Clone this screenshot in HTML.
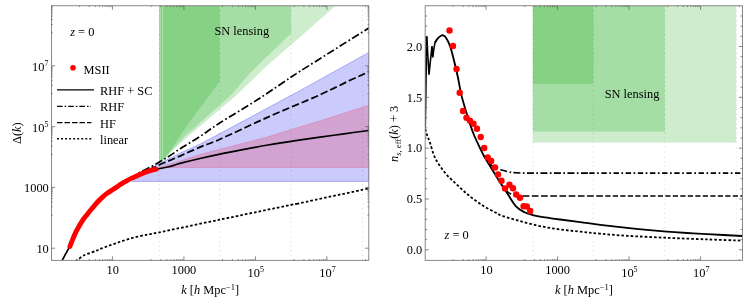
<!DOCTYPE html>
<html><head><meta charset="utf-8"><title>plot</title><style>html,body{margin:0;padding:0;background:#fff}svg{display:block;will-change:transform;opacity:0.999}</style></head><body>
<svg width="747" height="299" viewBox="0 0 747 299">
<rect width="747" height="299" fill="#fff"/>
<defs><clipPath id="cl"><rect x="51.5" y="5.8" width="317.3" height="254.6"/></clipPath>
<clipPath id="cr"><rect x="425.2" y="5.8" width="317.3" height="254.6"/></clipPath></defs>
<g clip-path="url(#cl)">
<polygon points="159.0,5.8 335.6,5.8 300.0,37.0 265.0,67.5 235.0,96.5 215.0,113.5 185.0,139.1 160.2,162.6 159.0,163.5" fill="rgb(5,165,5)" fill-opacity="0.20"/>
<polygon points="159.0,5.8 291.0,5.8 291.0,33.4 263.5,60.0 250.0,73.0 232.0,94.0 215.0,109.5 185.0,135.9 160.2,162.4 159.0,163.5" fill="rgb(5,165,5)" fill-opacity="0.20"/>
<polygon points="161.0,5.8 219.6,5.8 219.6,81.7 198.5,110.0 185.0,128.6 166.7,156.2 162.0,162.0 161.0,162.5" fill="rgb(5,165,5)" fill-opacity="0.20"/>
<line x1="162.6" y1="5.8" x2="162.6" y2="158" stroke="#fff" stroke-opacity="0.45" stroke-width="0.8"/>
<polygon points="132.6,181.4 136.8,175.9 145.0,171.5 151.0,168.0 158.4,164.0 180.0,153.2 200.0,144.2 220.0,133.5 268.0,107.8 301.0,90.0 368.8,52.4 368.8,181.4 132.6,181.4" fill="rgb(60,60,240)" fill-opacity="0.27" stroke="rgb(90,90,240)" stroke-opacity="0.7" stroke-width="0.6"/>
<polygon points="158.6,167.4 180.0,161.0 200.0,154.5 220.0,149.2 268.0,136.8 320.0,120.8 368.8,105.3 368.8,167.5 158.6,167.5" fill="rgb(240,40,70)" fill-opacity="0.24" stroke="rgb(235,60,110)" stroke-opacity="0.42" stroke-width="0.6"/>
</g>
<line x1="159.4" y1="5.8" x2="159.4" y2="260.4" stroke="#000" stroke-opacity="0.17" stroke-width="0.8" stroke-dasharray="1.2 3.5"/>
<line x1="219.6" y1="5.8" x2="219.6" y2="260.4" stroke="#000" stroke-opacity="0.17" stroke-width="0.8" stroke-dasharray="1.2 3.5"/>
<line x1="291.0" y1="5.8" x2="291.0" y2="260.4" stroke="#000" stroke-opacity="0.17" stroke-width="0.8" stroke-dasharray="1.2 3.5"/>
<line x1="362.5" y1="5.8" x2="362.5" y2="260.4" stroke="#000" stroke-opacity="0.17" stroke-width="0.8" stroke-dasharray="1.2 3.5"/>
<g clip-path="url(#cl)" fill="none" stroke="#000" stroke-linejoin="round">
<path d="M75.50,261.20 C75.88,260.92 76.72,260.27 77.80,259.50 C78.88,258.73 80.62,257.45 82.00,256.60 C83.38,255.75 83.68,255.40 86.10,254.40 C88.52,253.40 93.92,251.60 96.50,250.60 C99.08,249.60 98.40,249.62 101.60,248.40 C104.80,247.18 110.73,245.00 115.70,243.30 C120.67,241.60 126.17,239.65 131.40,238.20 C136.63,236.75 142.65,235.53 147.10,234.60 C151.55,233.67 146.02,235.08 158.10,232.60 C170.18,230.12 197.45,224.32 219.60,219.70 C241.75,215.08 277.60,207.67 291.00,204.90 C304.40,202.13 287.03,205.85 300.00,203.10 C312.97,200.35 357.33,190.85 368.80,188.40" stroke-width="1.8" stroke-dasharray="2.6 2.05"/>
<path d="M130.00,179.00 C131.67,177.88 136.38,174.40 140.00,172.30 C143.62,170.20 148.40,168.17 151.70,166.40 C155.00,164.63 157.12,163.27 159.80,161.70 C162.48,160.13 165.27,158.57 167.80,157.00 C170.33,155.43 172.97,153.67 175.00,152.30 C177.03,150.93 175.83,151.45 180.00,148.80 C184.17,146.15 193.33,140.73 200.00,136.40 C206.67,132.07 210.50,128.87 220.00,122.80 C229.50,116.73 245.33,107.50 257.00,100.00 C268.67,92.50 282.83,82.58 290.00,77.80 C297.17,73.02 286.87,79.60 300.00,71.30 C313.13,63.00 357.33,35.22 368.80,28.00" stroke-width="1.7" stroke-dasharray="7.9 2.5 1.7 2.5"/>
<path d="M140.00,174.50 C141.83,173.58 147.93,170.53 151.00,169.00 C154.07,167.47 155.60,166.58 158.40,165.30 C161.20,164.02 165.03,162.48 167.80,161.30 C170.57,160.12 172.97,159.07 175.00,158.20 C177.03,157.33 175.83,157.95 180.00,156.10 C184.17,154.25 193.33,149.92 200.00,147.10 C206.67,144.28 208.67,144.20 220.00,139.20 C231.33,134.20 251.33,124.50 268.00,117.10 C284.67,109.70 306.33,100.93 320.00,94.80 C333.67,88.67 341.87,84.13 350.00,80.30 C358.13,76.47 365.67,73.22 368.80,71.80" stroke-width="1.7" stroke-dasharray="7.4 3"/>
<path d="M62.30,260.20 C62.83,259.20 64.47,256.10 65.50,254.20 C66.53,252.30 67.67,250.37 68.50,248.80 C69.33,247.23 69.82,246.33 70.50,244.80 C71.18,243.27 71.73,241.67 72.60,239.60 C73.47,237.53 74.80,234.33 75.70,232.40 C76.60,230.47 76.95,229.85 78.00,228.00 C79.05,226.15 80.60,223.40 82.00,221.30 C83.40,219.20 84.98,217.25 86.40,215.40 C87.82,213.55 89.12,211.88 90.50,210.20 C91.88,208.52 93.28,206.92 94.70,205.30 C96.12,203.68 97.60,201.95 99.00,200.50 C100.40,199.05 101.77,197.78 103.10,196.60 C104.43,195.42 105.60,194.43 107.00,193.40 C108.40,192.37 109.67,191.60 111.50,190.40 C113.33,189.20 116.57,187.17 118.00,186.20 C119.43,185.23 118.37,185.67 120.10,184.60 C121.83,183.53 125.62,181.25 128.40,179.80 C131.18,178.35 134.03,177.13 136.80,175.90 C139.57,174.67 142.63,173.32 145.00,172.40 C147.37,171.48 148.95,170.97 151.00,170.40 C153.05,169.83 154.50,169.57 157.30,169.00 C160.10,168.43 164.85,167.67 167.80,167.00 C170.75,166.33 172.97,165.60 175.00,165.00 C177.03,164.40 175.83,164.48 180.00,163.40 C184.17,162.32 193.33,160.05 200.00,158.50 C206.67,156.95 212.67,155.62 220.00,154.10 C227.33,152.58 236.00,150.92 244.00,149.40 C252.00,147.88 259.67,146.42 268.00,145.00 C276.33,143.58 285.33,142.20 294.00,140.90 C302.67,139.60 311.67,138.38 320.00,137.20 C328.33,136.02 335.87,134.92 344.00,133.80 C352.13,132.68 364.67,131.05 368.80,130.50" stroke-width="1.7"/>
</g>
<path d="M69.90,246.60 C70.00,246.30 70.05,245.97 70.50,244.80 C70.95,243.63 71.73,241.67 72.60,239.60 C73.47,237.53 74.80,234.33 75.70,232.40 C76.60,230.47 76.95,229.85 78.00,228.00 C79.05,226.15 80.60,223.40 82.00,221.30 C83.40,219.20 84.98,217.25 86.40,215.40 C87.82,213.55 89.12,211.88 90.50,210.20 C91.88,208.52 93.28,206.92 94.70,205.30 C96.12,203.68 97.60,201.95 99.00,200.50 C100.40,199.05 101.77,197.78 103.10,196.60 C104.43,195.42 105.60,194.43 107.00,193.40 C108.40,192.37 109.67,191.60 111.50,190.40 C113.33,189.20 116.57,187.17 118.00,186.20 C119.43,185.23 118.37,185.67 120.10,184.60 C121.83,183.53 125.62,181.25 128.40,179.80 C131.18,178.35 134.03,177.13 136.80,175.90 C139.57,174.67 142.63,173.32 145.00,172.40 C147.37,171.48 149.17,170.93 151.00,170.40 C152.83,169.87 155.17,169.40 156.00,169.20" fill="none" stroke="#f00" stroke-width="4.9" stroke-linecap="round"/>
<g clip-path="url(#cr)">
<rect x="532.8" y="5.8" width="203.4" height="136.8" fill="rgb(5,165,5)" fill-opacity="0.20"/>
<rect x="532.8" y="5.8" width="132.0" height="125.8" fill="rgb(5,165,5)" fill-opacity="0.20"/>
<rect x="532.8" y="5.8" width="60.5" height="78.0" fill="rgb(5,165,5)" fill-opacity="0.20"/>
</g>
<line x1="533.1" y1="5.8" x2="533.1" y2="260.4" stroke="#000" stroke-opacity="0.17" stroke-width="0.8" stroke-dasharray="1.2 3.5"/>
<line x1="593.3" y1="5.8" x2="593.3" y2="260.4" stroke="#000" stroke-opacity="0.17" stroke-width="0.8" stroke-dasharray="1.2 3.5"/>
<line x1="664.7" y1="5.8" x2="664.7" y2="260.4" stroke="#000" stroke-opacity="0.17" stroke-width="0.8" stroke-dasharray="1.2 3.5"/>
<line x1="736.2" y1="5.8" x2="736.2" y2="260.4" stroke="#000" stroke-opacity="0.17" stroke-width="0.8" stroke-dasharray="1.2 3.5"/>
<g clip-path="url(#cr)" fill="none" stroke="#000" stroke-linejoin="round">
<path d="M425.30,129.00 C425.58,130.00 426.22,132.72 427.00,135.00 C427.78,137.28 428.67,138.92 430.00,142.70 C431.33,146.48 432.50,152.68 435.00,157.70 C437.50,162.72 441.22,168.18 445.00,172.80 C448.78,177.42 453.53,181.47 457.70,185.40 C461.87,189.33 465.82,193.05 470.00,196.40 C474.18,199.75 478.57,202.82 482.80,205.50 C487.03,208.18 492.20,210.80 495.40,212.50 C498.60,214.20 497.90,214.27 502.00,215.70 C506.10,217.13 513.67,219.37 520.00,221.10 C526.33,222.83 533.30,224.70 540.00,226.10 C546.70,227.50 553.48,228.57 560.20,229.50 C566.92,230.43 573.62,231.00 580.30,231.70 C586.98,232.40 592.52,233.02 600.30,233.70 C608.08,234.38 615.88,235.12 627.00,235.80 C638.12,236.48 653.67,237.20 667.00,237.80 C680.33,238.40 694.42,238.93 707.00,239.40 C719.58,239.87 736.58,240.40 742.50,240.60" stroke-width="1.8" stroke-dasharray="2.6 2.05"/>
<path d="M484.00,156.00 C484.67,157.00 486.67,160.38 488.00,162.00 C489.33,163.62 490.67,164.75 492.00,165.70 C493.33,166.65 494.88,167.18 496.00,167.70 C497.12,168.22 497.58,168.37 498.70,168.80 C499.82,169.23 500.68,169.70 502.70,170.30 C504.72,170.90 509.02,172.00 510.80,172.40 C512.58,172.80 512.97,172.65 513.40,172.70 L521,173.05 L589.2,173.05" stroke-width="1.7" stroke-dasharray="7 2.4 1.7 2.4" stroke-dashoffset="5.15"/>
<path d="M589.2,173.05 L742.5,173.05" stroke-width="1.7" stroke-dasharray="5.4 2.5 1.7 2.55"/>
<path d="M502.00,185.00 C502.67,185.92 504.50,189.00 506.00,190.50 C507.50,192.00 509.00,193.12 511.00,194.00 C513.00,194.88 516.07,195.47 518.00,195.80 C519.93,196.13 521.83,195.97 522.60,196.00 L605.3,196.0" stroke-width="1.7" stroke-dasharray="6.7 2.5" stroke-dashoffset="2.79"/>
<path d="M605.3,196.0 L742.5,196.0" stroke-width="1.7" stroke-dasharray="5.2 2.3"/>
<path d="M425.0,127 L426.5,36.4" stroke-width="2.1"/>
<path d="M426.7,36.4 L427.8,55 L429,74.7 L430.5,60 L432,46 L432.8,57.5 L433.8,49 L435,42.5 L436.5,40.3" stroke-width="1.6" stroke-linejoin="miter"/>
<path d="M435.00,42.50 C435.50,41.78 437.00,39.32 438.00,38.20 C439.00,37.08 440.17,36.27 441.00,35.80 C441.83,35.33 442.17,35.07 443.00,35.40 C443.83,35.73 444.83,36.03 446.00,37.80 C447.17,39.57 448.77,42.63 450.00,46.00 C451.23,49.37 452.10,52.88 453.40,58.00 C454.70,63.12 456.53,70.80 457.80,76.70 C459.07,82.60 459.80,88.18 461.00,93.40 C462.20,98.62 463.50,102.90 465.00,108.00 C466.50,113.10 468.50,119.50 470.00,124.00 C471.50,128.50 472.33,131.00 474.00,135.00 C475.67,139.00 478.33,144.50 480.00,148.00 C481.67,151.50 482.33,153.00 484.00,156.00 C485.67,159.00 487.33,161.62 490.00,166.00 C492.67,170.38 497.00,177.55 500.00,182.30 C503.00,187.05 505.33,190.50 508.00,194.50 C510.67,198.50 513.33,203.38 516.00,206.30 C518.67,209.22 521.33,210.58 524.00,212.00 C526.67,213.42 529.33,214.03 532.00,214.80 C534.67,215.57 535.30,215.82 540.00,216.60 C544.70,217.38 553.48,218.58 560.20,219.50 C566.92,220.42 573.62,221.22 580.30,222.10 C586.98,222.98 592.52,223.83 600.30,224.80 C608.08,225.77 619.22,227.05 627.00,227.90 C634.78,228.75 640.33,229.28 647.00,229.90 C653.67,230.52 660.33,231.08 667.00,231.60 C673.67,232.12 680.28,232.57 687.00,233.00 C693.72,233.43 698.05,233.70 707.30,234.20 C716.55,234.70 736.63,235.70 742.50,236.00" stroke-width="1.85"/>
</g>
<circle cx="449.5" cy="30.5" r="3.2" fill="#f00"/>
<circle cx="453.0" cy="46.0" r="3.2" fill="#f00"/>
<circle cx="456.5" cy="69.0" r="3.2" fill="#f00"/>
<circle cx="459.7" cy="92.8" r="3.2" fill="#f00"/>
<circle cx="463.0" cy="111.0" r="3.2" fill="#f00"/>
<circle cx="466.5" cy="117.7" r="3.2" fill="#f00"/>
<circle cx="470.0" cy="120.8" r="3.2" fill="#f00"/>
<circle cx="473.5" cy="123.8" r="3.2" fill="#f00"/>
<circle cx="477.0" cy="128.7" r="3.2" fill="#f00"/>
<circle cx="480.7" cy="137.0" r="3.2" fill="#f00"/>
<circle cx="484.2" cy="148.0" r="3.2" fill="#f00"/>
<circle cx="487.7" cy="157.4" r="3.2" fill="#f00"/>
<circle cx="491.2" cy="161.0" r="3.2" fill="#f00"/>
<circle cx="495.0" cy="167.5" r="3.2" fill="#f00"/>
<circle cx="498.0" cy="174.4" r="3.2" fill="#f00"/>
<circle cx="501.5" cy="180.7" r="3.2" fill="#f00"/>
<circle cx="505.0" cy="188.4" r="3.2" fill="#f00"/>
<circle cx="509.5" cy="184.8" r="3.2" fill="#f00"/>
<circle cx="513.0" cy="188.2" r="3.2" fill="#f00"/>
<circle cx="516.2" cy="194.5" r="3.2" fill="#f00"/>
<circle cx="520.0" cy="197.8" r="3.2" fill="#f00"/>
<circle cx="523.6" cy="206.2" r="3.2" fill="#f00"/>
<circle cx="526.8" cy="206.5" r="3.2" fill="#f00"/>
<circle cx="530.2" cy="211.0" r="3.2" fill="#f00"/>
<rect x="51.50" y="5.75" width="317.30" height="254.60" fill="none" stroke="#7c7c7c" stroke-width="0.9"/>
<path d="M112.40,260.35 v-4 M112.40,5.75 v4" stroke="#555" stroke-width="0.7"/>
<path d="M79.50,260.35 v-1.3 M79.50,5.75 v1.3" stroke="#555" stroke-width="0.7"/>
<path d="M89.40,260.35 v-1.3 M89.40,5.75 v1.3" stroke="#555" stroke-width="0.7"/>
<path d="M95.20,260.35 v-1.3 M95.20,5.75 v1.3" stroke="#555" stroke-width="0.7"/>
<path d="M99.31,260.35 v-1.3 M99.31,5.75 v1.3" stroke="#555" stroke-width="0.7"/>
<path d="M102.50,260.35 v-1.3 M102.50,5.75 v1.3" stroke="#555" stroke-width="0.7"/>
<path d="M105.10,260.35 v-1.3 M105.10,5.75 v1.3" stroke="#555" stroke-width="0.7"/>
<path d="M107.30,260.35 v-1.3 M107.30,5.75 v1.3" stroke="#555" stroke-width="0.7"/>
<path d="M109.21,260.35 v-1.3 M109.21,5.75 v1.3" stroke="#555" stroke-width="0.7"/>
<path d="M110.89,260.35 v-1.3 M110.89,5.75 v1.3" stroke="#555" stroke-width="0.7"/>
<path d="M183.90,260.35 v-4 M183.90,5.75 v4" stroke="#555" stroke-width="0.7"/>
<path d="M151.00,260.35 v-1.3 M151.00,5.75 v1.3" stroke="#555" stroke-width="0.7"/>
<path d="M160.90,260.35 v-1.3 M160.90,5.75 v1.3" stroke="#555" stroke-width="0.7"/>
<path d="M166.70,260.35 v-1.3 M166.70,5.75 v1.3" stroke="#555" stroke-width="0.7"/>
<path d="M170.81,260.35 v-1.3 M170.81,5.75 v1.3" stroke="#555" stroke-width="0.7"/>
<path d="M174.00,260.35 v-1.3 M174.00,5.75 v1.3" stroke="#555" stroke-width="0.7"/>
<path d="M176.60,260.35 v-1.3 M176.60,5.75 v1.3" stroke="#555" stroke-width="0.7"/>
<path d="M178.80,260.35 v-1.3 M178.80,5.75 v1.3" stroke="#555" stroke-width="0.7"/>
<path d="M180.71,260.35 v-1.3 M180.71,5.75 v1.3" stroke="#555" stroke-width="0.7"/>
<path d="M182.39,260.35 v-1.3 M182.39,5.75 v1.3" stroke="#555" stroke-width="0.7"/>
<path d="M255.40,260.35 v-4 M255.40,5.75 v4" stroke="#555" stroke-width="0.7"/>
<path d="M222.50,260.35 v-1.3 M222.50,5.75 v1.3" stroke="#555" stroke-width="0.7"/>
<path d="M232.40,260.35 v-1.3 M232.40,5.75 v1.3" stroke="#555" stroke-width="0.7"/>
<path d="M238.20,260.35 v-1.3 M238.20,5.75 v1.3" stroke="#555" stroke-width="0.7"/>
<path d="M242.31,260.35 v-1.3 M242.31,5.75 v1.3" stroke="#555" stroke-width="0.7"/>
<path d="M245.50,260.35 v-1.3 M245.50,5.75 v1.3" stroke="#555" stroke-width="0.7"/>
<path d="M248.10,260.35 v-1.3 M248.10,5.75 v1.3" stroke="#555" stroke-width="0.7"/>
<path d="M250.30,260.35 v-1.3 M250.30,5.75 v1.3" stroke="#555" stroke-width="0.7"/>
<path d="M252.21,260.35 v-1.3 M252.21,5.75 v1.3" stroke="#555" stroke-width="0.7"/>
<path d="M253.89,260.35 v-1.3 M253.89,5.75 v1.3" stroke="#555" stroke-width="0.7"/>
<path d="M326.90,260.35 v-4 M326.90,5.75 v4" stroke="#555" stroke-width="0.7"/>
<path d="M294.00,260.35 v-1.3 M294.00,5.75 v1.3" stroke="#555" stroke-width="0.7"/>
<path d="M303.90,260.35 v-1.3 M303.90,5.75 v1.3" stroke="#555" stroke-width="0.7"/>
<path d="M309.70,260.35 v-1.3 M309.70,5.75 v1.3" stroke="#555" stroke-width="0.7"/>
<path d="M313.81,260.35 v-1.3 M313.81,5.75 v1.3" stroke="#555" stroke-width="0.7"/>
<path d="M317.00,260.35 v-1.3 M317.00,5.75 v1.3" stroke="#555" stroke-width="0.7"/>
<path d="M319.60,260.35 v-1.3 M319.60,5.75 v1.3" stroke="#555" stroke-width="0.7"/>
<path d="M321.80,260.35 v-1.3 M321.80,5.75 v1.3" stroke="#555" stroke-width="0.7"/>
<path d="M323.71,260.35 v-1.3 M323.71,5.75 v1.3" stroke="#555" stroke-width="0.7"/>
<path d="M325.39,260.35 v-1.3 M325.39,5.75 v1.3" stroke="#555" stroke-width="0.7"/>
<path d="M365.50,260.35 v-1.3 M365.50,5.75 v1.3" stroke="#555" stroke-width="0.7"/>
<rect x="425.20" y="5.75" width="317.30" height="254.60" fill="none" stroke="#7c7c7c" stroke-width="0.9"/>
<path d="M486.10,260.35 v-4 M486.10,5.75 v4" stroke="#555" stroke-width="0.7"/>
<path d="M453.20,260.35 v-1.3 M453.20,5.75 v1.3" stroke="#555" stroke-width="0.7"/>
<path d="M463.10,260.35 v-1.3 M463.10,5.75 v1.3" stroke="#555" stroke-width="0.7"/>
<path d="M468.90,260.35 v-1.3 M468.90,5.75 v1.3" stroke="#555" stroke-width="0.7"/>
<path d="M473.01,260.35 v-1.3 M473.01,5.75 v1.3" stroke="#555" stroke-width="0.7"/>
<path d="M476.20,260.35 v-1.3 M476.20,5.75 v1.3" stroke="#555" stroke-width="0.7"/>
<path d="M478.80,260.35 v-1.3 M478.80,5.75 v1.3" stroke="#555" stroke-width="0.7"/>
<path d="M481.00,260.35 v-1.3 M481.00,5.75 v1.3" stroke="#555" stroke-width="0.7"/>
<path d="M482.91,260.35 v-1.3 M482.91,5.75 v1.3" stroke="#555" stroke-width="0.7"/>
<path d="M484.59,260.35 v-1.3 M484.59,5.75 v1.3" stroke="#555" stroke-width="0.7"/>
<path d="M557.60,260.35 v-4 M557.60,5.75 v4" stroke="#555" stroke-width="0.7"/>
<path d="M524.70,260.35 v-1.3 M524.70,5.75 v1.3" stroke="#555" stroke-width="0.7"/>
<path d="M534.60,260.35 v-1.3 M534.60,5.75 v1.3" stroke="#555" stroke-width="0.7"/>
<path d="M540.40,260.35 v-1.3 M540.40,5.75 v1.3" stroke="#555" stroke-width="0.7"/>
<path d="M544.51,260.35 v-1.3 M544.51,5.75 v1.3" stroke="#555" stroke-width="0.7"/>
<path d="M547.70,260.35 v-1.3 M547.70,5.75 v1.3" stroke="#555" stroke-width="0.7"/>
<path d="M550.30,260.35 v-1.3 M550.30,5.75 v1.3" stroke="#555" stroke-width="0.7"/>
<path d="M552.50,260.35 v-1.3 M552.50,5.75 v1.3" stroke="#555" stroke-width="0.7"/>
<path d="M554.41,260.35 v-1.3 M554.41,5.75 v1.3" stroke="#555" stroke-width="0.7"/>
<path d="M556.09,260.35 v-1.3 M556.09,5.75 v1.3" stroke="#555" stroke-width="0.7"/>
<path d="M629.10,260.35 v-4 M629.10,5.75 v4" stroke="#555" stroke-width="0.7"/>
<path d="M596.20,260.35 v-1.3 M596.20,5.75 v1.3" stroke="#555" stroke-width="0.7"/>
<path d="M606.10,260.35 v-1.3 M606.10,5.75 v1.3" stroke="#555" stroke-width="0.7"/>
<path d="M611.90,260.35 v-1.3 M611.90,5.75 v1.3" stroke="#555" stroke-width="0.7"/>
<path d="M616.01,260.35 v-1.3 M616.01,5.75 v1.3" stroke="#555" stroke-width="0.7"/>
<path d="M619.20,260.35 v-1.3 M619.20,5.75 v1.3" stroke="#555" stroke-width="0.7"/>
<path d="M621.80,260.35 v-1.3 M621.80,5.75 v1.3" stroke="#555" stroke-width="0.7"/>
<path d="M624.00,260.35 v-1.3 M624.00,5.75 v1.3" stroke="#555" stroke-width="0.7"/>
<path d="M625.91,260.35 v-1.3 M625.91,5.75 v1.3" stroke="#555" stroke-width="0.7"/>
<path d="M627.59,260.35 v-1.3 M627.59,5.75 v1.3" stroke="#555" stroke-width="0.7"/>
<path d="M700.60,260.35 v-4 M700.60,5.75 v4" stroke="#555" stroke-width="0.7"/>
<path d="M667.70,260.35 v-1.3 M667.70,5.75 v1.3" stroke="#555" stroke-width="0.7"/>
<path d="M677.60,260.35 v-1.3 M677.60,5.75 v1.3" stroke="#555" stroke-width="0.7"/>
<path d="M683.40,260.35 v-1.3 M683.40,5.75 v1.3" stroke="#555" stroke-width="0.7"/>
<path d="M687.51,260.35 v-1.3 M687.51,5.75 v1.3" stroke="#555" stroke-width="0.7"/>
<path d="M690.70,260.35 v-1.3 M690.70,5.75 v1.3" stroke="#555" stroke-width="0.7"/>
<path d="M693.30,260.35 v-1.3 M693.30,5.75 v1.3" stroke="#555" stroke-width="0.7"/>
<path d="M695.50,260.35 v-1.3 M695.50,5.75 v1.3" stroke="#555" stroke-width="0.7"/>
<path d="M697.41,260.35 v-1.3 M697.41,5.75 v1.3" stroke="#555" stroke-width="0.7"/>
<path d="M699.09,260.35 v-1.3 M699.09,5.75 v1.3" stroke="#555" stroke-width="0.7"/>
<path d="M739.20,260.35 v-1.3 M739.20,5.75 v1.3" stroke="#555" stroke-width="0.7"/>
<path d="M51.50,248.20 h3.6 M368.80,248.20 h-3.6" stroke="#555" stroke-width="0.7"/>
<path d="M51.50,187.40 h3.6 M368.80,187.40 h-3.6" stroke="#555" stroke-width="0.7"/>
<path d="M51.50,215.20 h1.3 M368.80,215.20 h-1.3" stroke="#555" stroke-width="0.7"/>
<path d="M51.50,206.83 h1.3 M368.80,206.83 h-1.3" stroke="#555" stroke-width="0.7"/>
<path d="M51.50,201.94 h1.3 M368.80,201.94 h-1.3" stroke="#555" stroke-width="0.7"/>
<path d="M51.50,198.46 h1.3 M368.80,198.46 h-1.3" stroke="#555" stroke-width="0.7"/>
<path d="M51.50,195.77 h1.3 M368.80,195.77 h-1.3" stroke="#555" stroke-width="0.7"/>
<path d="M51.50,193.57 h1.3 M368.80,193.57 h-1.3" stroke="#555" stroke-width="0.7"/>
<path d="M51.50,191.71 h1.3 M368.80,191.71 h-1.3" stroke="#555" stroke-width="0.7"/>
<path d="M51.50,190.09 h1.3 M368.80,190.09 h-1.3" stroke="#555" stroke-width="0.7"/>
<path d="M51.50,188.67 h1.3 M368.80,188.67 h-1.3" stroke="#555" stroke-width="0.7"/>
<path d="M51.50,126.60 h3.6 M368.80,126.60 h-3.6" stroke="#555" stroke-width="0.7"/>
<path d="M51.50,154.40 h1.3 M368.80,154.40 h-1.3" stroke="#555" stroke-width="0.7"/>
<path d="M51.50,146.03 h1.3 M368.80,146.03 h-1.3" stroke="#555" stroke-width="0.7"/>
<path d="M51.50,141.14 h1.3 M368.80,141.14 h-1.3" stroke="#555" stroke-width="0.7"/>
<path d="M51.50,137.66 h1.3 M368.80,137.66 h-1.3" stroke="#555" stroke-width="0.7"/>
<path d="M51.50,134.97 h1.3 M368.80,134.97 h-1.3" stroke="#555" stroke-width="0.7"/>
<path d="M51.50,132.77 h1.3 M368.80,132.77 h-1.3" stroke="#555" stroke-width="0.7"/>
<path d="M51.50,130.91 h1.3 M368.80,130.91 h-1.3" stroke="#555" stroke-width="0.7"/>
<path d="M51.50,129.29 h1.3 M368.80,129.29 h-1.3" stroke="#555" stroke-width="0.7"/>
<path d="M51.50,127.87 h1.3 M368.80,127.87 h-1.3" stroke="#555" stroke-width="0.7"/>
<path d="M51.50,65.80 h3.6 M368.80,65.80 h-3.6" stroke="#555" stroke-width="0.7"/>
<path d="M51.50,93.60 h1.3 M368.80,93.60 h-1.3" stroke="#555" stroke-width="0.7"/>
<path d="M51.50,85.23 h1.3 M368.80,85.23 h-1.3" stroke="#555" stroke-width="0.7"/>
<path d="M51.50,80.34 h1.3 M368.80,80.34 h-1.3" stroke="#555" stroke-width="0.7"/>
<path d="M51.50,76.86 h1.3 M368.80,76.86 h-1.3" stroke="#555" stroke-width="0.7"/>
<path d="M51.50,74.17 h1.3 M368.80,74.17 h-1.3" stroke="#555" stroke-width="0.7"/>
<path d="M51.50,71.97 h1.3 M368.80,71.97 h-1.3" stroke="#555" stroke-width="0.7"/>
<path d="M51.50,70.11 h1.3 M368.80,70.11 h-1.3" stroke="#555" stroke-width="0.7"/>
<path d="M51.50,68.49 h1.3 M368.80,68.49 h-1.3" stroke="#555" stroke-width="0.7"/>
<path d="M51.50,67.07 h1.3 M368.80,67.07 h-1.3" stroke="#555" stroke-width="0.7"/>
<path d="M51.50,32.80 h1.3 M368.80,32.80 h-1.3" stroke="#555" stroke-width="0.7"/>
<path d="M51.50,24.43 h1.3 M368.80,24.43 h-1.3" stroke="#555" stroke-width="0.7"/>
<path d="M51.50,19.54 h1.3 M368.80,19.54 h-1.3" stroke="#555" stroke-width="0.7"/>
<path d="M51.50,16.06 h1.3 M368.80,16.06 h-1.3" stroke="#555" stroke-width="0.7"/>
<path d="M51.50,13.37 h1.3 M368.80,13.37 h-1.3" stroke="#555" stroke-width="0.7"/>
<path d="M51.50,11.17 h1.3 M368.80,11.17 h-1.3" stroke="#555" stroke-width="0.7"/>
<path d="M51.50,9.31 h1.3 M368.80,9.31 h-1.3" stroke="#555" stroke-width="0.7"/>
<path d="M51.50,7.69 h1.3 M368.80,7.69 h-1.3" stroke="#555" stroke-width="0.7"/>
<path d="M51.50,6.27 h1.3 M368.80,6.27 h-1.3" stroke="#555" stroke-width="0.7"/>
<path d="M425.20,249.80 h3.6 M742.50,249.80 h-3.6" stroke="#555" stroke-width="0.7"/>
<path d="M425.20,239.64 h2.0 M742.50,239.64 h-2.0" stroke="#555" stroke-width="0.7"/>
<path d="M425.20,229.47 h2.0 M742.50,229.47 h-2.0" stroke="#555" stroke-width="0.7"/>
<path d="M425.20,219.31 h2.0 M742.50,219.31 h-2.0" stroke="#555" stroke-width="0.7"/>
<path d="M425.20,209.14 h2.0 M742.50,209.14 h-2.0" stroke="#555" stroke-width="0.7"/>
<path d="M425.20,198.98 h3.6 M742.50,198.98 h-3.6" stroke="#555" stroke-width="0.7"/>
<path d="M425.20,188.81 h2.0 M742.50,188.81 h-2.0" stroke="#555" stroke-width="0.7"/>
<path d="M425.20,178.64 h2.0 M742.50,178.64 h-2.0" stroke="#555" stroke-width="0.7"/>
<path d="M425.20,168.48 h2.0 M742.50,168.48 h-2.0" stroke="#555" stroke-width="0.7"/>
<path d="M425.20,158.31 h2.0 M742.50,158.31 h-2.0" stroke="#555" stroke-width="0.7"/>
<path d="M425.20,148.15 h3.6 M742.50,148.15 h-3.6" stroke="#555" stroke-width="0.7"/>
<path d="M425.20,137.99 h2.0 M742.50,137.99 h-2.0" stroke="#555" stroke-width="0.7"/>
<path d="M425.20,127.82 h2.0 M742.50,127.82 h-2.0" stroke="#555" stroke-width="0.7"/>
<path d="M425.20,117.66 h2.0 M742.50,117.66 h-2.0" stroke="#555" stroke-width="0.7"/>
<path d="M425.20,107.49 h2.0 M742.50,107.49 h-2.0" stroke="#555" stroke-width="0.7"/>
<path d="M425.20,97.32 h3.6 M742.50,97.32 h-3.6" stroke="#555" stroke-width="0.7"/>
<path d="M425.20,87.16 h2.0 M742.50,87.16 h-2.0" stroke="#555" stroke-width="0.7"/>
<path d="M425.20,76.99 h2.0 M742.50,76.99 h-2.0" stroke="#555" stroke-width="0.7"/>
<path d="M425.20,66.83 h2.0 M742.50,66.83 h-2.0" stroke="#555" stroke-width="0.7"/>
<path d="M425.20,56.66 h2.0 M742.50,56.66 h-2.0" stroke="#555" stroke-width="0.7"/>
<path d="M425.20,46.50 h3.6 M742.50,46.50 h-3.6" stroke="#555" stroke-width="0.7"/>
<path d="M425.20,36.33 h2.0 M742.50,36.33 h-2.0" stroke="#555" stroke-width="0.7"/>
<path d="M425.20,26.17 h2.0 M742.50,26.17 h-2.0" stroke="#555" stroke-width="0.7"/>
<path d="M425.20,16.00 h2.0 M742.50,16.00 h-2.0" stroke="#555" stroke-width="0.7"/>
<g font-family="Liberation Serif, serif" font-size="12.4" fill="#000">
<text x="48.8" y="252.8" text-anchor="end">10</text>
<text x="48.8" y="192.0" text-anchor="end">1000</text>
<text x="48.5" y="132.0" text-anchor="end">10<tspan font-size="8" dy="-4.8">5</tspan></text>
<text x="48.5" y="71.2" text-anchor="end">10<tspan font-size="8" dy="-4.8">7</tspan></text>
<text x="112.8" y="273.8" text-anchor="middle">10</text>
<text x="183.9" y="273.8" text-anchor="middle">1000</text>
<text x="255.7" y="276.6" text-anchor="middle">10<tspan font-size="8" dy="-4.8">5</tspan></text>
<text x="327.5" y="276.6" text-anchor="middle">10<tspan font-size="8" dy="-4.8">7</tspan></text>
<text x="210.2" y="294.2" text-anchor="middle"><tspan font-style="italic">k</tspan> [<tspan font-style="italic">h</tspan> Mpc<tspan font-size="8.5" dy="-4.6">−1</tspan><tspan dy="4.6">]</tspan></text>
<text x="486.5" y="273.8" text-anchor="middle">10</text>
<text x="557.6" y="273.8" text-anchor="middle">1000</text>
<text x="629.4" y="276.6" text-anchor="middle">10<tspan font-size="8" dy="-4.8">5</tspan></text>
<text x="701.2" y="276.6" text-anchor="middle">10<tspan font-size="8" dy="-4.8">7</tspan></text>
<text x="583.9" y="294.2" text-anchor="middle"><tspan font-style="italic">k</tspan> [<tspan font-style="italic">h</tspan> Mpc<tspan font-size="8.5" dy="-4.6">−1</tspan><tspan dy="4.6">]</tspan></text>
<text x="422.3" y="254.0" text-anchor="end">0.0</text>
<text x="422.3" y="203.2" text-anchor="end">0.5</text>
<text x="422.3" y="152.3" text-anchor="end">1.0</text>
<text x="422.3" y="101.5" text-anchor="end">1.5</text>
<text x="422.3" y="50.7" text-anchor="end">2.0</text>
<text transform="translate(20.8,133.2) rotate(-90)" text-anchor="middle">Δ(<tspan font-style="italic">k</tspan>)</text>
<text transform="translate(398.2,133.8) rotate(-90)" text-anchor="middle"><tspan font-style="italic">n</tspan><tspan font-size="8.5" dy="2.8"><tspan font-style="italic">s</tspan>, eff</tspan><tspan dy="-2.8">(</tspan><tspan font-style="italic">k</tspan>) + 3</text>
<text x="70.2" y="36.2"><tspan font-style="italic">z</tspan> = 0</text>
<text x="444.6" y="239.3"><tspan font-style="italic">z</tspan> = 0</text>
<text x="214.4" y="35.2">SN lensing</text>
<text x="604.7" y="97.9">SN lensing</text>
<text x="83.5" y="73.7">MSII</text>
<text x="100.0" y="95.0">RHF + SC</text>
<text x="100.0" y="111.4">RHF</text>
<text x="100.0" y="127.7">HF</text>
<text x="100.0" y="144">linear</text>
</g>
<circle cx="73" cy="67.8" r="2.8" fill="#f00"/>
<g stroke="#000" fill="none">
<path d="M57,89.8 H94" stroke-width="1.3"/>
<path d="M57,106.4 H91" stroke-width="1.3" stroke-dasharray="5.6 2 1.6 2"/>
<path d="M57,122.7 H91.4" stroke-width="1.3" stroke-dasharray="5.5 2"/>
<path d="M57,138.8 H91.2" stroke-width="1.4" stroke-dasharray="1.9 2.15"/>
</g>
</svg>
</body></html>
